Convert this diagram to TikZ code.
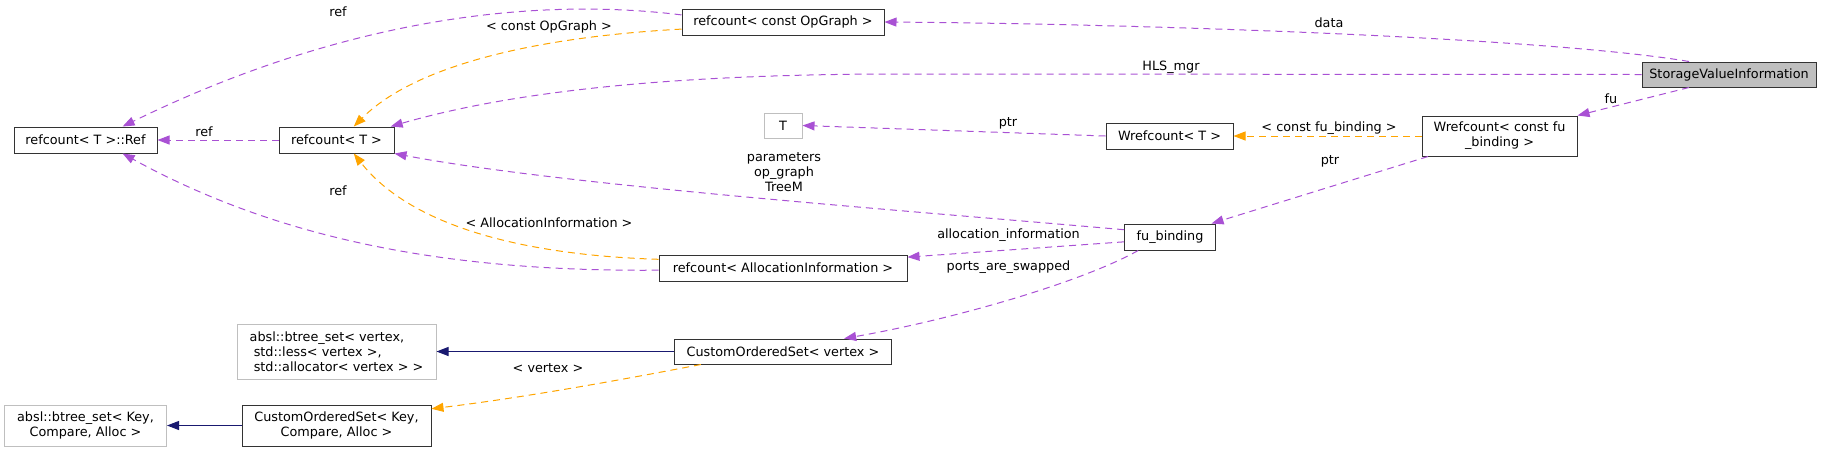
\documentclass[tikz,border=0pt]{standalone}
\usepackage{fontspec}
\setmainfont{DejaVu Sans}
\usetikzlibrary{arrows.meta, positioning}
\definecolor{usecol}{HTML}{9A32CD}
\definecolor{tplcol}{HTML}{FFA500}
\definecolor{inhcol}{HTML}{191970}

\tikzset{
  cls/.style={draw=black!80, fill=white, line width=1pt, inner sep=2pt, align=center, minimum height=26pt},
  extcls/.style={cls, draw=black!25},
  curcls/.style={cls, fill=black!25},
  useedge/.style={draw=usecol!85, line width=1pt, dash pattern=on 7pt off 5pt, -{Triangle[length=12pt,width=9pt]}},
  tpledge/.style={useedge, draw=tplcol},
  inhedge/.style={draw=inhcol, line width=1pt, -{Triangle[length=12pt,width=9pt]}},
  lbl/.style={inner sep=1pt, align=center}
}

\begin{document}
\begin{tikzpicture}[x=1pt, y=-1pt, font=\fontsize{12.8}{15}\selectfont]
                \useasboundingbox (0,0) rectangle (1832,451);
                \node (svi) [curcls, minimum width=174pt, minimum height=25pt] at (1729,74.5) {StorageValueInformation};
                \node (opg) [cls, minimum width=202pt] at (783,22) {refcount< const OpGraph >};
                \node (rct) [cls, minimum width=115pt] at (336.5,140) {refcount< T >};
                \node (ref) [cls, minimum width=143pt] at (85.5,140) {refcount< T >::Ref};
                \node (tnode) [extcls, minimum width=38pt, minimum height=25pt] at (783,125.5) {T};
                \node (wrt) [cls, minimum width=127pt] at (1169.5,136) {Wrefcount< T >};
                \node (wrfb) [cls, minimum width=155pt, minimum height=40pt] at (1499.5,136) {Wrefcount< const fu\\\_binding >};
                \node (fub) [cls, minimum width=91pt] at (1170,237) {fu\_binding};
                \node (rcai) [cls, minimum width=248pt] at (783,268) {refcount< AllocationInformation >};
                \node (cosv) [cls, minimum width=217pt, minimum height=25pt] at (783,351.5) {CustomOrderedSet< vertex >};
                \node (abslv) [extcls, align=left, minimum width=199pt, minimum height=55pt] at (336.5,351.5) {absl::btree\_set< vertex,\\\ std::less< vertex >,\\\ std::allocator< vertex > >};
                \node (cosk) [cls, minimum width=189pt, minimum height=41pt] at (336.5,425.5) {CustomOrderedSet< Key,\\Compare, Alloc >};
                \node (abslk) [extcls, minimum width=162pt, minimum height=41pt] at (85.5,425.5) {absl::btree\_set< Key,\\Compare, Alloc >};

                \draw[useedge] (svi.162) .. controls (1550,38) and (1150,24) .. (opg.east);
                \draw[useedge] (svi.west) -- (900,74) .. controls (650,74) and (500,95) .. (rct.14);
                \draw[useedge] (svi.198) -- (wrfb.north east);
                \draw[tpledge] (wrfb.west) -- (wrt.east);
                \draw[useedge] (wrt.west) -- (tnode.east);
                \draw[useedge] (wrfb.196.5) -- (fub.18);
                \draw[useedge] (fub.171) .. controls (900,210) and (560,185) .. (rct.south east);
                \draw[useedge] (fub.186) -- (rcai.5);
                \draw[useedge] (fub.203) .. controls (1080,283) and (950,320) .. (cosv.12);
                \draw[tpledge] (opg.184) .. controls (520,38) and (410,70) .. (rct.38);
                \draw[useedge] (opg.176) .. controls (520,-5) and (330,25) .. (ref.20);
                \draw[useedge] (rct.west) -- (ref.east);
                \draw[tpledge] (rcai.176.3) .. controls (520,255) and (410,225) .. (rct.-38);
                \draw[useedge] (rcai.181.8) .. controls (450,272) and (280,240) .. (ref.-20);
                \draw[inhedge] (cosv.west) -- (abslv.east);
                \draw[tpledge] (cosv.189) .. controls (610,382) and (520,398) .. (cosk.10);
                \draw[inhedge] (cosk.west) -- (abslk.east);

                \node (l_data) [lbl] at (1329,23) {data};
                \node (l_hls) [lbl] at (1171,67) {HLS\_mgr};
                \node (l_fu) [lbl] at (1611,99) {fu};
                \node (l_cfb) [lbl] at (1329,128) {< const fu\_binding >};
                \node (l_ptra) [lbl] at (1008,123) {ptr};
                \node (l_ptrb) [lbl] at (1330,161) {ptr};
                \node (l_par) [lbl] at (784,172) {parameters\\op\_graph\\TreeM};
                \node (l_alloc) [lbl] at (1008.5,235) {allocation\_information};
                \node (l_ports) [lbl] at (1008.5,267) {ports\_are\_swapped};
                \node (l_cog) [lbl] at (549,27) {< const OpGraph >};
                \node (l_refa) [lbl] at (338,12) {ref};
                \node (l_refb) [lbl] at (204,132) {ref};
                \node (l_ai) [lbl] at (549,223) {< AllocationInformation >};
                \node (l_refc) [lbl] at (338,191) {ref};
                \node (l_vtx) [lbl] at (548,368) {< vertex >};
            \end{tikzpicture}
\end{document}
